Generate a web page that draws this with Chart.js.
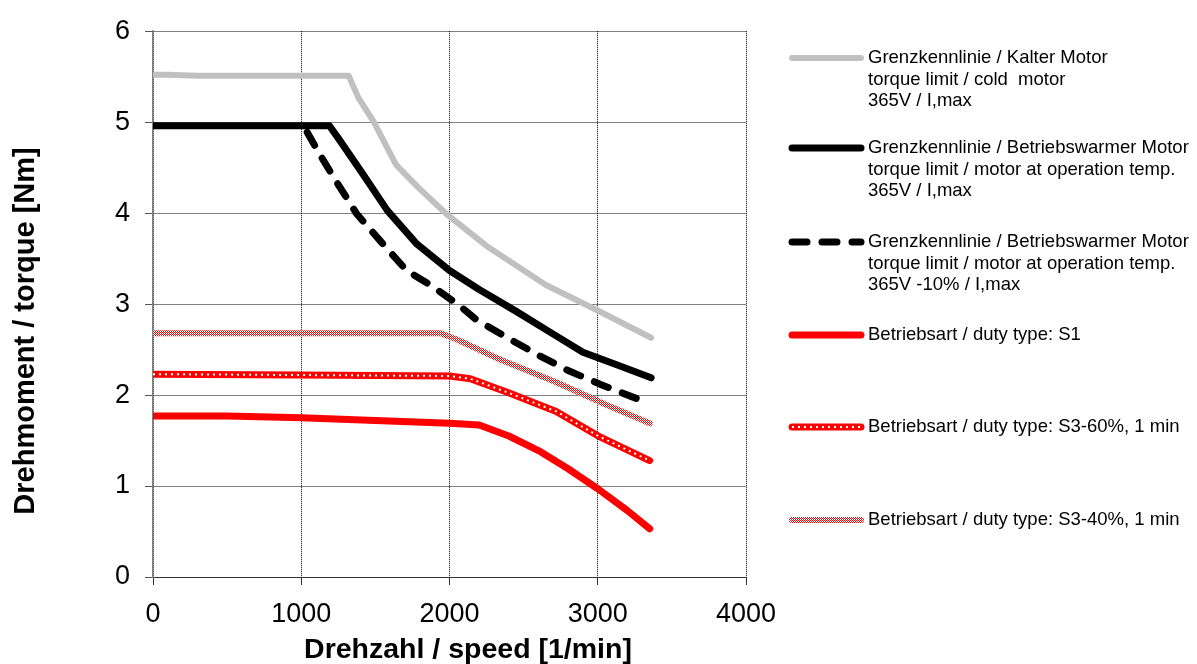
<!DOCTYPE html>
<html>
<head>
<meta charset="utf-8">
<script src="https://cdn.jsdelivr.net/npm/chart.js@4.4.1/dist/chart.umd.min.js"></script>
<style>
  body { margin: 0; background: #fff; }
  #wrap { width: 1197px; height: 664px; position: relative; }
</style>
</head>
<body>
<div id="wrap"><canvas id="chart"></canvas></div>
<script>
// Kalter Motor (cold)
const coldSpeed = [0, 100, 300, 600, 900, 1200, 1320, 1385, 1490, 1640, 1790, 1980, 2250, 2650, 3000, 3360];
const coldTorque = [5.52, 5.52, 5.51, 5.51, 5.51, 5.51, 5.51, 5.27, 5.00, 4.53, 4.28, 3.99, 3.64, 3.21, 2.93, 2.63];

// Betriebswarmer Motor 365V
const warmSpeed = [0, 600, 1190, 1260, 1420, 1580, 1780, 2000, 2200, 2450, 2700, 2900, 3150, 3360];
const warmTorque = [4.96, 4.96, 4.96, 4.80, 4.42, 4.03, 3.66, 3.37, 3.16, 2.92, 2.67, 2.47, 2.32, 2.19];

// Betriebswarmer Motor 365V -10%
const warm10Speed = [1040, 1120, 1220, 1375, 1530, 1710, 1890, 2070, 2180, 2400, 2610, 2800, 3015, 3265];
const warm10Torque = [4.89, 4.66, 4.39, 3.99, 3.70, 3.37, 3.19, 2.98, 2.83, 2.62, 2.43, 2.27, 2.12, 1.96];

// S1
const s1Speed = [0, 500, 1000, 1500, 2000, 2200, 2400, 2600, 2800, 3000, 3200, 3350];
const s1Torque = [1.77, 1.77, 1.75, 1.72, 1.69, 1.67, 1.55, 1.39, 1.19, 0.97, 0.73, 0.53];

// S3-60%
const s360Speed = [0, 1000, 2000, 2140, 2390, 2720, 3015, 3350];
const s360Torque = [2.23, 2.22, 2.21, 2.18, 2.03, 1.82, 1.54, 1.28];

// S3-40%
const s340Speed = [0, 1000, 1940, 2050, 2340, 2720, 3060, 3350];
const s340Torque = [2.68, 2.68, 2.68, 2.61, 2.39, 2.14, 1.89, 1.69];

const xTicks = [0, 1000, 2000, 3000, 4000];
const yTicks = [0, 1, 2, 3, 4, 5, 6];

const xTitle = 'Drehzahl / speed [1/min]';
const yTitle = 'Drehmoment / torque [Nm]';

const legendLabels = [
  ['Grenzkennlinie / Kalter Motor', 'torque limit / cold  motor', '365V / I,max'],
  ['Grenzkennlinie / Betriebswarmer Motor', 'torque limit / motor at operation temp.', '365V / I,max'],
  ['Grenzkennlinie / Betriebswarmer Motor', 'torque limit / motor at operation temp.', '365V -10% / I,max'],
  ['Betriebsart / duty type: S1'],
  ['Betriebsart / duty type: S3-60%, 1 min'],
  ['Betriebsart / duty type: S3-40%, 1 min']
];

const pts = (xs, ys) => xs.map((x, i) => ({ x: x, y: ys[i] }));

// red/white checker for the S3-40% line
const tile = document.createElement('canvas');
tile.width = 2; tile.height = 2;
const tctx = tile.getContext('2d');
tctx.fillStyle = '#fff'; tctx.fillRect(0, 0, 2, 2);
tctx.fillStyle = '#ff0000'; tctx.fillRect(0, 0, 1, 1); tctx.fillRect(1, 1, 1, 1);
const checker = tctx.createPattern(tile, 'repeat');

const FONT = "'Liberation Sans', Arial, Helvetica, sans-serif";

const base = { fill: false, pointRadius: 0, tension: 0, borderJoinStyle: 'round', borderCapStyle: 'round' };

// lower "order" is drawn on top
const datasets = [
  { ...base, label: 'cold', data: pts(coldSpeed, coldTorque), borderColor: '#c0c0c0', borderWidth: 6, order: 6 },
  { ...base, label: 'warm', data: pts(warmSpeed, warmTorque), borderColor: '#000', borderWidth: 7, order: 5 },
  { ...base, label: 'warm10', data: pts(warm10Speed, warm10Torque), borderColor: '#000', borderWidth: 7, borderDash: [15, 15], order: 4 },
  { ...base, label: 'S1', data: pts(s1Speed, s1Torque), borderColor: '#ff0000', borderWidth: 7, order: 3 },
  { ...base, label: 'S3-60', data: pts(s360Speed, s360Torque), borderColor: '#ff0000', borderWidth: 7, order: 2 },
  { ...base, label: 'S3-60 dots', data: pts(s360Speed, s360Torque), borderColor: '#fff', borderWidth: 2, borderDash: [2, 4], borderCapStyle: 'butt', order: 1 },
  { ...base, label: 'S3-40', data: pts(s340Speed, s340Torque), borderColor: checker, borderWidth: 6, order: 2 }
];

// legend: sample line + text, per entry
const legendRows = [
  { ds: [0], y: 58 },
  { ds: [1], y: 148 },
  { ds: [2], y: 242 },
  { ds: [3], y: 335 },
  { ds: [4, 5], y: 427 },
  { ds: [6], y: 520 }
];

const sideLegend = {
  id: 'sideLegend',
  afterDraw(chart) {
    const ctx = chart.ctx;
    ctx.save();
    legendRows.forEach((row, i) => {
      row.ds.forEach(idx => {
        const d = chart.data.datasets[idx];
        ctx.beginPath();
        ctx.strokeStyle = d.borderColor;
        ctx.lineWidth = d.borderWidth;
        ctx.lineCap = d.borderCapStyle;
        ctx.setLineDash(d.borderDash || []);
        ctx.moveTo(792, row.y);
        ctx.lineTo(861, row.y);
        ctx.stroke();
      });
      ctx.setLineDash([]);
      ctx.fillStyle = '#000';
      ctx.font = '18.5px ' + FONT;
      ctx.textBaseline = 'middle';
      legendLabels[i].forEach((t, k) => {
        ctx.fillText(t, 868, row.y + k * 21.7);
      });
    });

    // axis titles
    ctx.font = 'bold 28.5px ' + FONT;
    ctx.textAlign = 'center';
    ctx.textBaseline = 'alphabetic';
    ctx.fillText(xTitle, 468, 658);
    ctx.translate(34, 331);
    ctx.rotate(-Math.PI / 2);
    ctx.font = 'bold 29px ' + FONT;
    ctx.fillText(yTitle, 0, 0);
    ctx.restore();
  }
};

new Chart(document.getElementById('chart'), {
  type: 'line',
  data: { datasets: datasets },
  options: {
    responsive: true,
    maintainAspectRatio: false,
    animation: false,
    layout: { padding: { left: 0, top: 25, right: 451, bottom: 0 } },
    plugins: { legend: { display: false }, tooltip: { enabled: false } },
    scales: {
      x: {
        type: 'linear',
        min: 0,
        max: 4000,
        afterBuildTicks: s => { s.ticks = xTicks.map(v => ({ value: v })); },
        afterFit: s => { s.height = 87; },
        ticks: { color: '#000', font: { family: FONT, size: 27 }, padding: 13, maxRotation: 0, callback: v => String(v) },
        grid: { color: '#000', lineWidth: 1, tickLength: 8, tickColor: '#333' },
        border: { display: true, color: '#333', width: 1, dash: [1, 1] }
      },
      y: {
        min: 0,
        max: 6,
        afterBuildTicks: s => { s.ticks = yTicks.map(v => ({ value: v })); },
        afterFit: s => { s.width = 153; },
        ticks: { color: '#000', font: { family: FONT, size: 27 }, padding: 15, callback: v => String(v) },
        grid: { color: '#000', lineWidth: 1, tickLength: 8, tickColor: '#555' },
        border: { display: true, color: '#808080', width: 1.5, dash: [1, 1] }
      }
    }
  },
  plugins: [sideLegend]
});
</script>
</body>
</html>
